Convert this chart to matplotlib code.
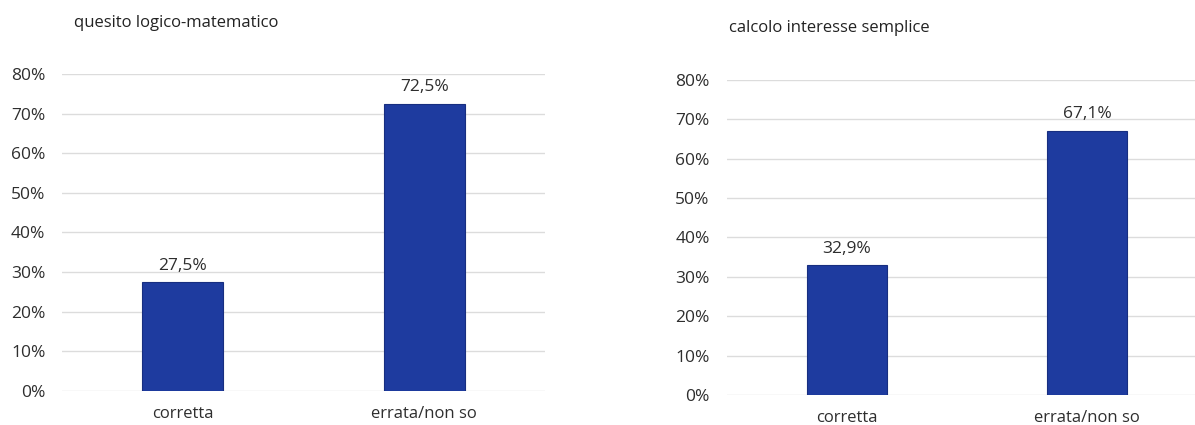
import matplotlib.pyplot as plt
from matplotlib.ticker import FuncFormatter

# Risposte ai due quesiti (percentuali)
categorie = ['corretta', 'errata/non so']
quesito_logico = [27.5, 72.5]
interesse_semplice = [32.9, 67.1]
titoli = ['quesito logico-matematico', 'calcolo interesse semplice']
yticks = [0, 10, 20, 30, 40, 50, 60, 70, 80]

plt.rcParams['font.family'] = ['Open Sans', 'DejaVu Sans']

blu = '#1e3b9f'
grigio = '#2e2e2e'

fig = plt.figure(figsize=(11.95, 4.25), dpi=100)
ax1 = fig.add_axes([0.0519, 0.080, 0.4042, 0.746])
ax2 = fig.add_axes([0.6084, 0.0706, 0.4017, 0.7412])


def disegna(ax, valori, titolo, titolo_xy, pad_y):
    x = range(len(categorie))
    ax.bar(x, valori, width=0.335, color=blu, edgecolor='#172e80', linewidth=0.8, zorder=3)
    for xi, v in zip(x, valori):
        ax.annotate(('%.1f%%' % v).replace('.', ','), (xi, v), xytext=(0, 6),
                    textcoords='offset points', ha='center', va='bottom',
                    fontsize=12.5, color=grigio)
    ax.set_xlim(-0.5, 1.5)
    ax.set_ylim(0, 80)
    ax.set_yticks(yticks)
    ax.yaxis.set_major_formatter(FuncFormatter(lambda v, p: '%d%%' % v))
    ax.set_xticks(list(x))
    ax.set_xticklabels(categorie)
    ax.tick_params(axis='y', length=0, pad=pad_y, labelsize=12.5, labelcolor=grigio)
    ax.tick_params(axis='x', length=0, pad=11, labelsize=12, labelcolor=grigio)
    ax.grid(axis='y', color='#dcdcdc', linewidth=1, zorder=0)
    ax.set_axisbelow(True)
    for s in ax.spines.values():
        s.set_visible(False)
    fig.text(titolo_xy[0], titolo_xy[1], titolo, fontsize=12, color='#222222',
             ha='left', va='center')


disegna(ax1, quesito_logico, titoli[0], (0.062, 0.945), 12)
disegna(ax2, interesse_semplice, titoli[1], (0.610, 0.934), 12.5)

fig.savefig('out.png', dpi=100)
